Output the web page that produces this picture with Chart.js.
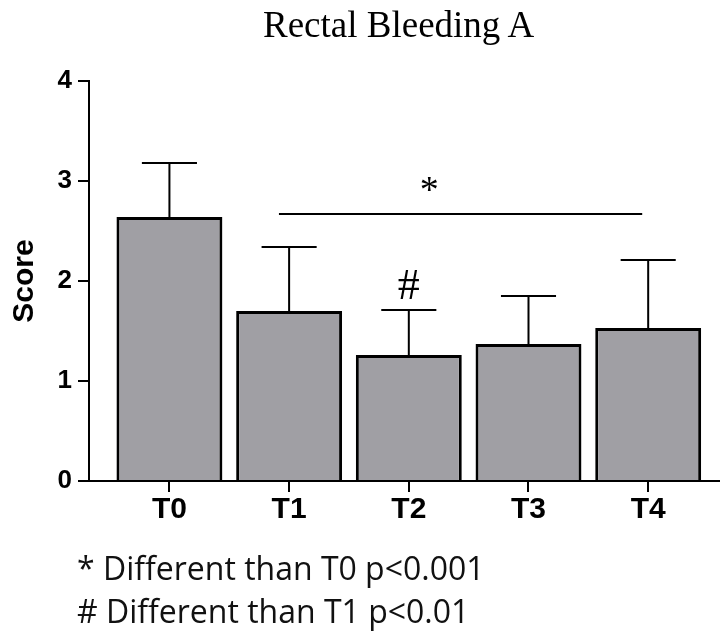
<!DOCTYPE html>
<html>
<head>
<meta charset="utf-8">
<script src="https://cdn.jsdelivr.net/npm/chart.js@4"></script>
<style>
  html, body { margin: 0; padding: 0; background: #fff; overflow: hidden; }
  #wrap { position: relative; width: 720px; height: 633px; }
  #title { position: absolute; left: 263px; top: 3px; font: 37px "Liberation Serif", "Times New Roman", serif; line-height: 44px; color: #000; white-space: nowrap; }
  .note { position: absolute; left: 77px; font: 32px "Open Sans", sans-serif; line-height: 43px; color: #111; white-space: nowrap; }
</style>
</head>
<body>
<div id="wrap">
  <canvas id="chart" width="720" height="633"></canvas>
  <div id="title">Rectal Bleeding A</div>
  <div class="note" style="top:546px">* Different than T0 p&lt;0.001</div>
  <div class="note" style="top:589px"># Different than T1 p&lt;0.01</div>
</div>
<script>
        // Data
        const categories = ['T0', 'T1', 'T2', 'T3', 'T4'];
        const means = [2.64, 1.70, 1.26, 1.37, 1.53];
        const sds = [0.54, 0.64, 0.45, 0.48, 0.68];
        const yTicks = [0, 1, 2, 3, 4];

        // significance marks (value space)
        const bracket = { from: 0.915, to: 3.95, y: 2.67, label: '*', labelX: 2.17, labelY: 2.89 };
        const hashMark = { index: 2, label: '#', gap: 0.23 };

        // Error bars + significance marks
        const extras = {
            id: 'extras',
            afterDatasetsDraw(chart) {
                const ctx = chart.ctx;
                const xs = chart.scales.x;
                const ys = chart.scales.y;
                const meta = chart.getDatasetMeta(0);
                ctx.save();
                ctx.strokeStyle = '#000';
                ctx.lineWidth = 2;
                meta.data.forEach((bar, i) => {
                    const top = ys.getPixelForValue(means[i] + sds[i]);
                    const base = ys.getPixelForValue(means[i]);
                    const half = bar.width * 0.26;
                    ctx.beginPath();
                    ctx.moveTo(bar.x, base);
                    ctx.lineTo(bar.x, top);
                    ctx.moveTo(bar.x - half, top);
                    ctx.lineTo(bar.x + half, top);
                    ctx.stroke();
                });

                // bracket line T1..T4
                const by = ys.getPixelForValue(bracket.y);
                ctx.beginPath();
                ctx.moveTo(xs.getPixelForValue(bracket.from), by);
                ctx.lineTo(xs.getPixelForValue(bracket.to), by);
                ctx.stroke();

                ctx.fillStyle = '#000';
                ctx.textAlign = 'center';
                ctx.textBaseline = 'middle';
                ctx.font = '38px "Liberation Serif", serif';
                ctx.fillText(bracket.label, xs.getPixelForValue(bracket.labelX), ys.getPixelForValue(bracket.labelY));

                const hi = hashMark.index;
                ctx.font = '44px "Liberation Serif", serif';
                ctx.fillText(hashMark.label, meta.data[hi].x, ys.getPixelForValue(means[hi] + sds[hi] + hashMark.gap));
                ctx.restore();
            }
        };

        const scoreChart = new Chart(
            document.getElementById('chart'),
            {
                type: 'bar',
                data: {
                    datasets: [
                        {
                            data: means.map((v, i) => ({ x: i, y: v })),
                            backgroundColor: 'rgb(160, 159, 164)',
                            borderColor: '#000',
                            borderWidth: 3,
                            categoryPercentage: 1,
                            barPercentage: 0.885
                        }
                    ]
                },
                options: {
                    responsive: false,
                    animation: false,
                    layout: {
                        padding: { top: 81, left: 0, right: 0, bottom: 0 }
                    },
                    plugins: {
                        legend: { display: false },
                        tooltip: { enabled: false }
                    },
                    scales: {
                        x: {
                            type: 'linear',
                            min: -0.672,
                            max: 4.6,
                            offset: false,
                            afterFit: (scale) => { scale.height = 152; },
                            afterBuildTicks: (scale) => {
                                scale.ticks = categories.map((c, i) => ({ value: i }));
                            },
                            grid: {
                                offset: false,
                                drawOnChartArea: false,
                                color: '#000',
                                lineWidth: 2,
                                tickLength: 11
                            },
                            border: { display: true, color: '#000', width: 2 },
                            ticks: {
                                color: '#000',
                                padding: 0,
                                autoSkip: false,
                                maxRotation: 0,
                                font: { family: '"Liberation Sans", Arial, sans-serif', size: 30, weight: 'bold' },
                                callback: (v) => categories[v]
                            }
                        },
                        y: {
                            min: 0,
                            max: 4,
                            afterFit: (scale) => { scale.width = 89; },
                            afterBuildTicks: (scale) => {
                                scale.ticks = yTicks.map((v) => ({ value: v }));
                            },
                            grid: {
                                drawOnChartArea: false,
                                color: '#000',
                                lineWidth: 2,
                                tickLength: 11
                            },
                            border: { display: true, color: '#000', width: 2 },
                            ticks: {
                                color: '#000',
                                padding: 6,
                                font: { family: '"Liberation Sans", Arial, sans-serif', size: 26, weight: 'bold' }
                            },
                            title: {
                                display: true,
                                text: 'Score',
                                color: '#000',
                                padding: { top: 7, bottom: 0 },
                                font: { family: '"Liberation Sans", Arial, sans-serif', size: 30, weight: 'bold' }
                            }
                        }
                    }
                },
                plugins: [extras]
            }
        );
</script>
</body>
</html>
